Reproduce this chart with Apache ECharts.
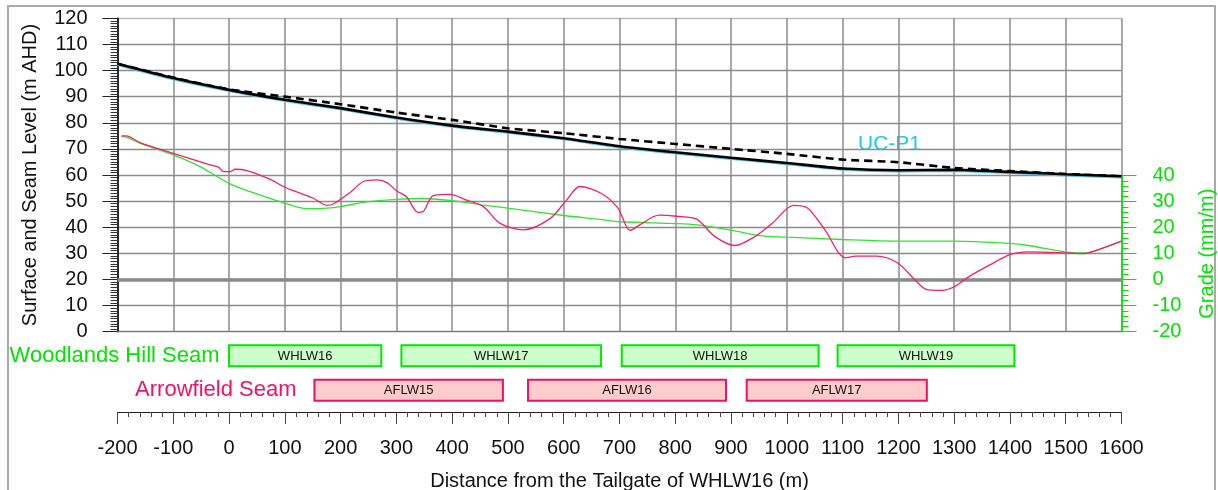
<!DOCTYPE html>
<html>
<head>
<meta charset="utf-8">
<script src="https://cdn.jsdelivr.net/npm/echarts@6/dist/echarts.min.js"></script>
<style>
html,body{margin:0;padding:0;background:#fff;}
#chart{width:1218px;height:490px;}
</style>
</head>
<body>
<div id="chart"></div>
<script>
// ---------- data ----------
const distTicks = [-200,-100,0,100,200,300,400,500,600,700,800,900,1000,1100,1200,1300,1400,1500,1600];
const surfaceLevel = [102.6,97.1,92.6,88.8,85.6,82.0,78.9,76.6,74.1,71.0,68.7,66.6,64.6,62.5,61.8,62.0,61.2,60.3,59.5];
const preMiningLevel = [102.6,97.3,92.8,90.0,87.1,83.9,81.1,77.9,76.0,73.8,71.9,70.0,68.1,65.9,64.9,62.7,61.5,60.4,59.5];

const pinkX = [-193,-184,-160,-100,-34,-19,-10,2,11,32,73,100,115,151,175,187,217,241,265,283,300,318,339,348,366,396,426,456,486,528,576,605,629,666,697,719,737,771,802,839,870,907,944,975,1012,1037,1068,1105,1124,1161,1198,1229,1250,1278,1300,1328,1365,1401,1433,1501,1532,1550,1600];
const pinkY = [75.0,75.0,72.4,68.3,63.9,63.0,61.3,61.3,62.2,61.7,58.4,55.3,54.0,51.1,48.4,48.9,53.3,57.5,58.1,57.1,54.0,51.7,45.7,46.0,52.1,52.6,50.4,47.9,41.5,39.0,43.4,50.4,55.6,53.1,47.4,38.8,41.0,44.6,44.2,43.0,36.6,33.0,36.6,41.7,48.4,47.4,39.1,28.3,28.9,28.9,26.4,20.0,16.2,15.8,17.2,21.3,25.7,29.6,30.6,30.2,29.9,30.8,34.7];

const greenX = [-193,-184,-160,-100,-52,0,38,100,139,175,200,246,300,343,400,456,500,600,665,700,800,839,900,950,1000,1100,1200,1300,1400,1433,1500,1532,1550,1600];
const greenY = [74.7,74.5,72.2,67.7,63.2,56.8,53.6,49.2,47.1,47.3,47.9,49.7,50.7,51.0,50.2,48.5,47.3,44.5,43.0,42.1,41.4,40.9,38.9,36.8,36.2,35.3,34.7,34.7,33.8,33.0,30.5,30.2,30.8,34.7];

const seamRows = ['Arrowfield Seam','Woodlands Hill Seam'];
const whPanelNames = ['WHLW16','WHLW17','WHLW18','WHLW19'];
const whPanelStart = [0,309,704,1091];
const whPanelEnd = [273,667,1057,1408];
const afPanelNames = ['AFLW15','AFLW16','AFLW17'];
const afPanelStart = [153,536,928];
const afPanelEnd = [491,891,1251];

const levelTicks = {min:0, max:120, interval:10};
const gradeTicks = {min:-20, max:40, interval:10};
const distRange = {min:-200, max:1600, interval:100};

// ---------- build ----------
const zip = (xs, ys) => xs.map((x,i)=>[x, ys[i]]);
const panelData = [];
whPanelNames.forEach((n,i)=>panelData.push([whPanelStart[i], whPanelEnd[i], 1, n]));
afPanelNames.forEach((n,i)=>panelData.push([afPanelStart[i], afPanelEnd[i], 0, n]));

const FONT = 'Liberation Sans';
const GREEN = '#00e400';
const PINK = '#ee1166';
const GRID_L = 117.5, GRID_R = 96.5;
const plain = v => String(v);
const gridBase = {left:GRID_L, right:GRID_R, outerBoundsMode:'none', containLabel:false};

const chart = echarts.init(document.getElementById('chart'), null, {renderer:'canvas'});
chart.setOption({
  animation:false,
  backgroundColor:'#fff',
  textStyle:{fontFamily:FONT},
  grid:[
    Object.assign({top:18.3, height:313.4}, gridBase),
    Object.assign({top:175.7, height:156}, gridBase),
    Object.assign({top:338.5, height:69}, gridBase),
    Object.assign({top:411, height:1}, gridBase)
  ],
  xAxis:[
    {gridIndex:0, type:'value', min:distRange.min, max:distRange.max, interval:distRange.interval,
     axisLabel:{show:false}, axisTick:{show:false},
     axisLine:{show:true, onZero:false, lineStyle:{color:'#777', width:1}},
     splitLine:{show:true, lineStyle:{color:'#8c8c8c', width:1.5}}},
    {gridIndex:1, type:'value', min:distRange.min, max:distRange.max, show:false, axisLine:{onZero:false}},
    {gridIndex:2, type:'value', min:distRange.min, max:distRange.max, show:false, axisLine:{onZero:false}},
    {gridIndex:3, type:'value', min:distRange.min, max:distRange.max, interval:distRange.interval,
     axisLine:{show:true, onZero:false, lineStyle:{color:'#222', width:1}},
     axisTick:{show:true, inside:false, length:12, lineStyle:{color:'#444'}},
     minorTick:{show:true, splitNumber:5, length:5, lineStyle:{color:'#444'}},
     axisLabel:{fontSize:20, color:'#111', margin:26, fontFamily:FONT, formatter:plain},
     splitLine:{show:false},
     name:'Distance from the Tailgate of WHLW16 (m)', nameLocation:'middle', nameGap:59,
     nameTextStyle:{fontSize:20, color:'#111', fontFamily:FONT}}
  ],
  yAxis:[
    {gridIndex:0, type:'value', min:levelTicks.min, max:levelTicks.max, interval:levelTicks.interval,
     axisLine:{show:true, onZero:false, lineStyle:{color:'#000', width:1.5}},
     axisTick:{show:true, inside:false, length:15, lineStyle:{color:'#222'}},
     minorTick:{show:true, splitNumber:10, length:7, lineStyle:{color:'#333'}},
     axisLabel:{fontSize:20, color:'#111', margin:30, fontFamily:FONT, formatter:plain},
     splitLine:{show:true, lineStyle:{color:['#8c8c8c','#8c8c8c','#8c8c8c','#8c8c8c','#8c8c8c','#8c8c8c','#8c8c8c','#8c8c8c','#8c8c8c','#8c8c8c','#8c8c8c','#8c8c8c','#bdbdbd'], width:1.3}},
     name:'Surface and Seam Level (m AHD)', nameLocation:'middle', nameRotate:90, nameGap:77,
     nameTextStyle:{fontSize:20, color:'#111', fontFamily:FONT}},
    {gridIndex:1, type:'value', position:'right', min:gradeTicks.min, max:gradeTicks.max, interval:gradeTicks.interval,
     axisLine:{show:true, onZero:false, lineStyle:{color:GREEN, width:1.5}},
     axisTick:{show:true, inside:false, length:15, lineStyle:{color:GREEN}},
     minorTick:{show:true, splitNumber:5, length:7, lineStyle:{color:GREEN}},
     axisLabel:{fontSize:20, color:GREEN, margin:31, fontFamily:FONT, formatter:plain},
     splitLine:{show:false},
     name:'Grade (mm/m)', nameLocation:'middle', nameRotate:90, nameGap:76,
     nameTextStyle:{fontSize:20, color:GREEN, fontFamily:FONT}},
    {gridIndex:2, type:'category', data:seamRows, show:false, axisLine:{onZero:false}},
    {gridIndex:3, type:'value', show:false, axisLine:{onZero:false}}
  ],
  series:[
    {type:'line', name:'Zero grade', xAxisIndex:1, yAxisIndex:1, data:[], z:1,
     markLine:{silent:true, symbol:'none', label:{show:false},
       lineStyle:{color:'#8a8a8a', width:3.5, type:'solid'}, data:[{yAxis:0}]}},
    {type:'line', name:'Pre-mining surface', xAxisIndex:0, yAxisIndex:0, data:zip(distTicks, preMiningLevel),
     symbol:'none', smooth:0.2, z:3, lineStyle:{color:'#000', width:2.6, type:[8,5]}},
    {type:'line', name:'UC-P1', xAxisIndex:0, yAxisIndex:0, data:zip(distTicks, surfaceLevel),
     symbol:'none', smooth:0.2, z:4,
     lineStyle:{color:'#000', width:2.6, shadowColor:'#58c4e0', shadowBlur:0, shadowOffsetY:0.9}},
    {type:'line', name:'Arrowfield Seam', xAxisIndex:0, yAxisIndex:0, data:zip(pinkX, pinkY),
     symbol:'none', smooth:0.3, z:5, lineStyle:{color:'#f2206e', width:1.3}},
    {type:'line', name:'Woodlands Hill Seam', xAxisIndex:0, yAxisIndex:0, data:zip(greenX, greenY),
     symbol:'none', smooth:0.3, z:4, lineStyle:{color:'#2fe62f', width:1.3}},
    {type:'custom', name:'Panels', xAxisIndex:2, yAxisIndex:2, data:panelData,
     encode:{x:[0,1], y:2},
     renderItem:function(params, api){
       const row = api.value(2);
       const s = api.coord([api.value(0), row]);
       const e = api.coord([api.value(1), row]);
       const h = api.size([0,1])[1]*0.61;
       const isWH = row === 1;
       return {type:'group', children:[
         {type:'rect', shape:{x:s[0], y:s[1]-h/2, width:e[0]-s[0], height:h},
          style:{fill: isWH ? '#ccffcc' : '#ffcccc', stroke: isWH ? '#00e800' : PINK, lineWidth:2}},
         {type:'text', style:{text:api.value(3), x:(s[0]+e[0])/2, y:s[1]+0.5, align:'center', verticalAlign:'middle',
          fontSize:13, fontFamily:FONT, fill:'#111'}}
       ]};
     }}
  ],
  graphic:[
    {type:'rect', silent:true, z:-10, shape:{x:8, y:6, width:1207, height:520},
     style:{fill:'transparent', stroke:'#aaaaaa', lineWidth:2}},
    {type:'text', silent:true, x:858, y:134, style:{text:'UC-P1', fontSize:21, fontFamily:FONT, fill:'#1ec8f0'}},
    {type:'text', silent:true, x:219.5, y:355.5,
     style:{text:'Woodlands Hill Seam', align:'right', verticalAlign:'middle', fontSize:22, fontFamily:FONT, fill:GREEN}},
    {type:'text', silent:true, x:296.5, y:390,
     style:{text:'Arrowfield Seam', align:'right', verticalAlign:'middle', fontSize:22, fontFamily:FONT, fill:PINK}}
  ]
});
</script>
</body>
</html>
